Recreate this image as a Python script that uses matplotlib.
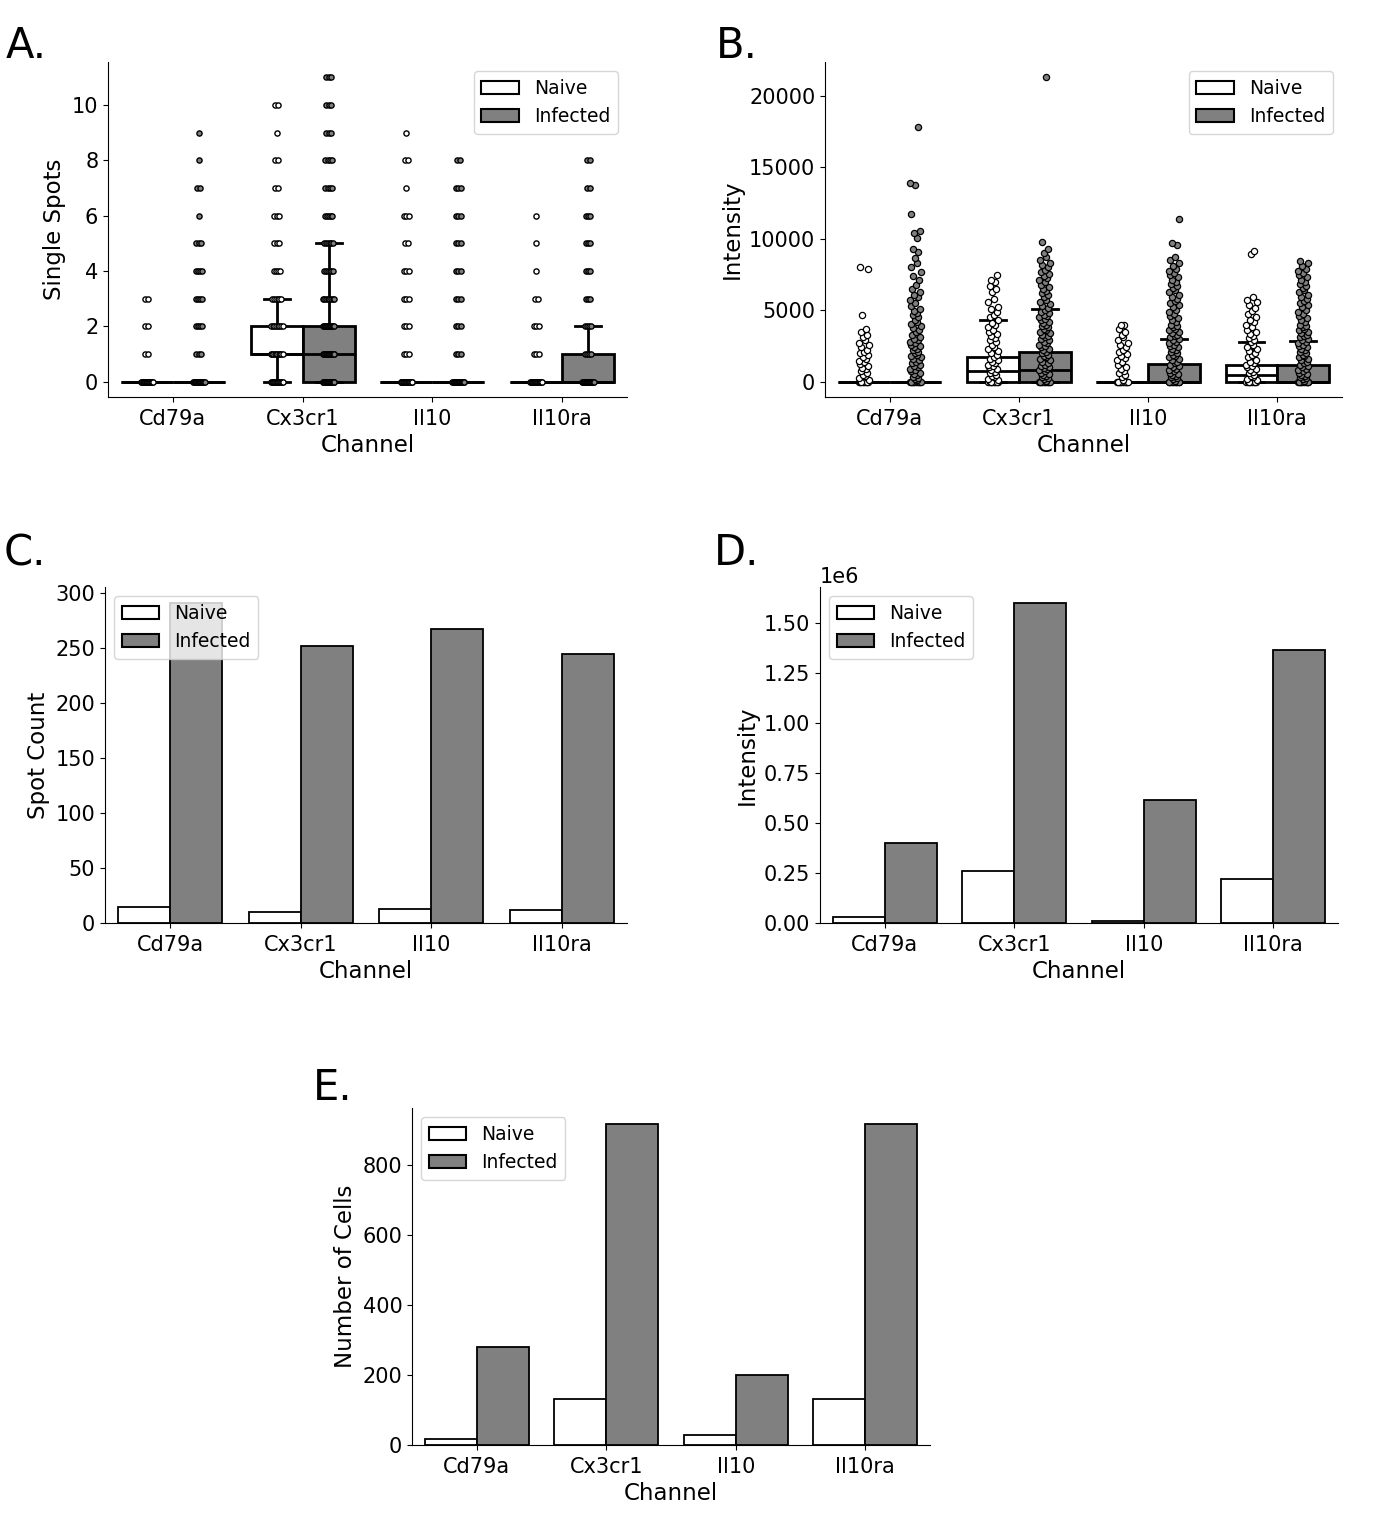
import numpy as np
import matplotlib
matplotlib.use("Agg")
import matplotlib.pyplot as plt
from matplotlib.patches import Patch

# ---- data ----
channels = ['Cd79a', 'Cx3cr1', 'Il10', 'Il10ra']
groups = ['Naive', 'Infected']

# A: single spots, number of cells at each spot count 0, 1, 2, ...
spots_naive = [
    [20, 2, 2, 2],
    [15, 10, 8, 6, 4, 3, 3, 2, 2, 1, 2],
    [20, 3, 3, 3, 3, 2, 3, 1, 2, 1],
    [20, 3, 3, 2, 1, 1, 1],
]
spots_infected = [
    [20, 3, 4, 4, 4, 3, 1, 2, 1, 1],
    [20, 15, 12, 8, 6, 6, 5, 4, 4, 3, 3, 3],
    [20, 3, 3, 3, 3, 3, 3, 3, 2],
    [20, 4, 4, 3, 3, 3, 3, 2, 2],
]
# box stats (q1, median, q3, whisker low, whisker high)
spots_box_naive = [(0, 0, 0, 0, 0), (1, 1, 2, 0, 3), (0, 0, 0, 0, 0), (0, 0, 0, 0, 0)]
spots_box_infected = [(0, 0, 0, 0, 0), (0, 1, 2, 0, 5), (0, 0, 0, 0, 0), (0, 0, 1, 0, 2)]

# B: intensity per cell
int_cd79a_naive = [0, 0, 0, 0, 0, 0, 0, 0, 120, 250, 380, 500, 620, 740, 860, 980, 1100,
                   1230, 1360, 1480, 1600, 1720, 1850, 1980, 2100, 2250, 2400, 2550, 2700,
                   2900, 3100, 3300, 3500, 3700, 4650, 7900, 8050]
int_cd79a_infected = [0, 0, 0, 0, 0, 0, 0, 0, 0, 0, 90, 180, 270, 360, 450, 540, 630, 720,
                      810, 900, 1000, 1100, 1200, 1300, 1400, 1500, 1600, 1700, 1800, 1900,
                      2000, 2100, 2200, 2300, 2400, 2500, 2600, 2700, 2800, 2900, 3000, 3150,
                      3300, 3450, 3600, 3750, 3900, 4050, 4200, 4350, 4500, 4650, 4800, 4950,
                      5100, 5300, 5500, 5700, 5900, 6100, 6300, 6500, 6800, 7100, 7400, 7700,
                      8000, 8300, 8650, 9100, 9300, 10070, 10400, 10550, 11700, 13750, 13900,
                      17850]
int_cx3cr1_naive = [0, 0, 0, 0, 0, 0, 0, 0, 100, 200, 300, 400, 500, 600, 700, 800, 900,
                    1000, 1100, 1200, 1300, 1400, 1500, 1600, 1700, 1850, 2000, 2150, 2300,
                    2450, 2600, 2750, 2900, 3050, 3200, 3350, 3500, 3650, 3800, 3950, 4100,
                    4300, 4500, 4700, 4900, 5100, 5250, 5600, 5800, 6300, 6500, 6700, 7000,
                    7150, 7450]
int_cx3cr1_infected = [0, 0, 0, 0, 0, 0, 0, 0, 0, 0, 80, 160, 240, 320, 400, 480, 560, 640,
                       720, 800, 880, 960, 1040, 1120, 1200, 1300, 1400, 1500, 1600, 1700,
                       1800, 1900, 2000, 2100, 2200, 2300, 2400, 2500, 2600, 2700, 2800, 2900,
                       3000, 3100, 3200, 3300, 3400, 3500, 3600, 3700, 3800, 3900, 4000, 4100,
                       4200, 4300, 4400, 4500, 4600, 4700, 4800, 4900, 5000, 5150, 5300, 5450,
                       5600, 5750, 5900, 6050, 6200, 6350, 6500, 6650, 6800, 6950, 7100, 7250,
                       7400, 7550, 7700, 7850, 8000, 8150, 8300, 8500, 8700, 9000, 9300, 9800,
                       21300]
int_il10_naive = [0, 0, 0, 0, 0, 0, 0, 0, 0, 0, 150, 300, 450, 600, 750, 900, 1050, 1200,
                  1350, 1500, 1650, 1800, 1950, 2100, 2250, 2400, 2550, 2700, 2900, 3100,
                  3300, 3500, 3700, 3950, 4000]
int_il10_infected = [0, 0, 0, 0, 0, 0, 0, 0, 0, 0, 80, 160, 240, 320, 400, 480, 560, 640,
                     720, 800, 900, 1000, 1100, 1200, 1300, 1400, 1500, 1600, 1700, 1800,
                     1900, 2000, 2100, 2200, 2300, 2400, 2500, 2600, 2700, 2800, 2900, 3000,
                     3100, 3200, 3300, 3400, 3500, 3600, 3700, 3800, 3900, 4000, 4150, 4300,
                     4450, 4600, 4750, 4900, 5050, 5200, 5350, 5500, 5650, 5800, 5950, 6100,
                     6250, 6400, 6550, 6700, 6850, 7000, 7150, 7300, 7450, 7600, 7750, 7900,
                     8100, 8300, 8500, 8700, 9600, 9700, 11400]
int_il10ra_naive = [0, 0, 0, 0, 0, 0, 0, 0, 100, 200, 300, 400, 500, 600, 700, 800, 900,
                    1000, 1100, 1200, 1300, 1400, 1550, 1700, 1850, 2000, 2150, 2300, 2450,
                    2600, 2750, 2900, 3050, 3200, 3350, 3500, 3650, 3800, 3950, 4150, 4350,
                    4550, 4750, 4950, 5150, 5350, 5550, 5750, 5900, 8950, 9150]
int_il10ra_infected = [0, 0, 0, 0, 0, 0, 0, 0, 0, 0, 80, 160, 240, 320, 400, 480, 560, 640,
                       720, 800, 900, 1000, 1100, 1200, 1300, 1400, 1500, 1600, 1700, 1800,
                       1900, 2000, 2100, 2200, 2300, 2400, 2500, 2600, 2700, 2800, 2900, 3000,
                       3100, 3200, 3300, 3400, 3500, 3600, 3700, 3800, 3900, 4000, 4150, 4300,
                       4450, 4600, 4750, 4900, 5050, 5200, 5350, 5500, 5650, 5800, 5950, 6100,
                       6250, 6400, 6550, 6700, 6850, 7000, 7150, 7300, 7450, 7600, 7750, 7900,
                       8100, 8300, 8470]
int_naive = [int_cd79a_naive, int_cx3cr1_naive, int_il10_naive, int_il10ra_naive]
int_infected = [int_cd79a_infected, int_cx3cr1_infected, int_il10_infected, int_il10ra_infected]
int_box_naive = [(0, 0, 0, 0, 0), (0, 760, 1740, 0, 4350), (0, 0, 0, 0, 0), (0, 490, 1180, 0, 2780)]
int_box_infected = [(0, 0, 0, 0, 0), (0, 830, 2080, 0, 5070), (0, 0, 1250, 0, 2990), (0, 0, 1200, 0, 2850)]

# C, D, E: totals
spot_count_naive = [15, 10, 13, 12]
spot_count_infected = [291, 252, 267, 245]
total_int_naive = [0.03e6, 0.26e6, 0.01e6, 0.22e6]
total_int_infected = [0.40e6, 1.60e6, 0.615e6, 1.365e6]
cells_naive = [17, 131, 29, 131]
cells_infected = [280, 917, 200, 917]

GREY = '#808080'
colors = ['white', GREY]
LABEL_FS = 16.5
TICK_FS = 15
LEG_FS = 13.5
jit = np.array([-0.9, 0.4, -0.2, 0.8, -0.6, 0.1, 0.6, -0.4, 0.9, -0.8,
                0.2, -0.1, 0.5, -0.5, 0.3, -0.3, 0.7, -0.7, 0.0])

fig = plt.figure(figsize=(13.79, 15.17), dpi=100)
W, H = 1379., 1517.


def make_ax(left, top, right, bottom):
    return fig.add_axes([left / W, 1 - bottom / H, (right - left) / W, (bottom - top) / H])


def style(ax, ylabel, legend_loc):
    ax.spines['top'].set_visible(False)
    ax.spines['right'].set_visible(False)
    ax.set_xticks(range(len(channels)))
    ax.set_xticklabels(channels)
    ax.set_xlim(-0.5, 3.5)
    ax.tick_params(labelsize=TICK_FS)
    ax.tick_params(axis='x', pad=5)
    ax.set_xlabel('Channel', fontsize=LABEL_FS, labelpad=4)
    ax.set_ylabel(ylabel, fontsize=LABEL_FS)
    handles = [Patch(facecolor=c, edgecolor='black', linewidth=1.5, label=g)
               for c, g in zip(colors, groups)]
    ax.legend(handles=handles, loc=legend_loc, fontsize=LEG_FS)


def boxes(ax, stats, pos, color):
    st = [dict(q1=s[0], med=s[1], q3=s[2], whislo=s[3], whishi=s[4]) for s in stats]
    ax.bxp(st, positions=pos, widths=0.4, showfliers=False, patch_artist=True,
           capwidths=0.2,
           boxprops=dict(facecolor=color, edgecolor='black', linewidth=2.0),
           medianprops=dict(color='black', linewidth=2.0),
           whiskerprops=dict(color='black', linewidth=2.0),
           capprops=dict(color='black', linewidth=2.0), zorder=2)


# ---- A ----
axA = make_ax(108, 62, 627, 397)
for k, (counts_list, bstats, col) in enumerate([(spots_naive, spots_box_naive, 'white'),
                                               (spots_infected, spots_box_infected, GREY)]):
    off = -0.2 if k == 0 else 0.2
    pos = [i + off for i in range(4)]
    boxes(axA, bstats, pos, col)
    for i, counts in enumerate(counts_list):
        for v, n in enumerate(counts):
            if n == 0:
                continue
            spread = min(0.045, 0.006 * n)
            xs = pos[i] + (np.linspace(-spread, spread, n) if n > 1 else np.array([0.0]))
            axA.scatter(xs, np.full(n, v), s=14, facecolor=col, edgecolor='black',
                        linewidth=1.0, zorder=3)
axA.set_yticks([0, 2, 4, 6, 8, 10])
style(axA, 'Single Spots', 'upper right')

# ---- B ----
axB = make_ax(825, 62, 1342, 397)
for k, (vals_list, bstats, col) in enumerate([(int_naive, int_box_naive, 'white'),
                                             (int_infected, int_box_infected, GREY)]):
    off = -0.2 if k == 0 else 0.2
    pos = [i + off for i in range(4)]
    boxes(axB, bstats, pos, col)
    for i, vals in enumerate(vals_list):
        vals = np.array(vals)
        xs = pos[i] + 0.045 * np.resize(jit, len(vals))
        axB.scatter(xs, vals, s=20, facecolor=col, edgecolor='black',
                    linewidth=0.9, zorder=3)
axB.set_yticks([0, 5000, 10000, 15000, 20000])
style(axB, 'Intensity', 'upper right')


# ---- bar panels ----
def bar_panel(ax, naive, infected, ylabel):
    x = np.arange(4)
    ax.bar(x - 0.2, naive, width=0.4, facecolor='white', edgecolor='black', linewidth=1.3)
    ax.bar(x + 0.2, infected, width=0.4, facecolor=GREY, edgecolor='black', linewidth=1.3)
    style(ax, ylabel, 'upper left')


axC = make_ax(105, 587, 627, 923)
bar_panel(axC, spot_count_naive, spot_count_infected, 'Spot Count')
axD = make_ax(820, 587, 1338, 923)
bar_panel(axD, total_int_naive, total_int_infected, 'Intensity')
axD.yaxis.get_offset_text().set_fontsize(TICK_FS)
axE = make_ax(412, 1108, 930, 1445)
bar_panel(axE, cells_naive, cells_infected, 'Number of Cells')

# panel letters
for lab, x, y in [('A.', 6, 58), ('B.', 716, 58), ('C.', 4, 565), ('D.', 714, 565), ('E.', 313, 1100)]:
    fig.text(x / W, 1 - y / H, lab, fontsize=30, va='baseline', ha='left')

fig.savefig('out.png', dpi=100)
